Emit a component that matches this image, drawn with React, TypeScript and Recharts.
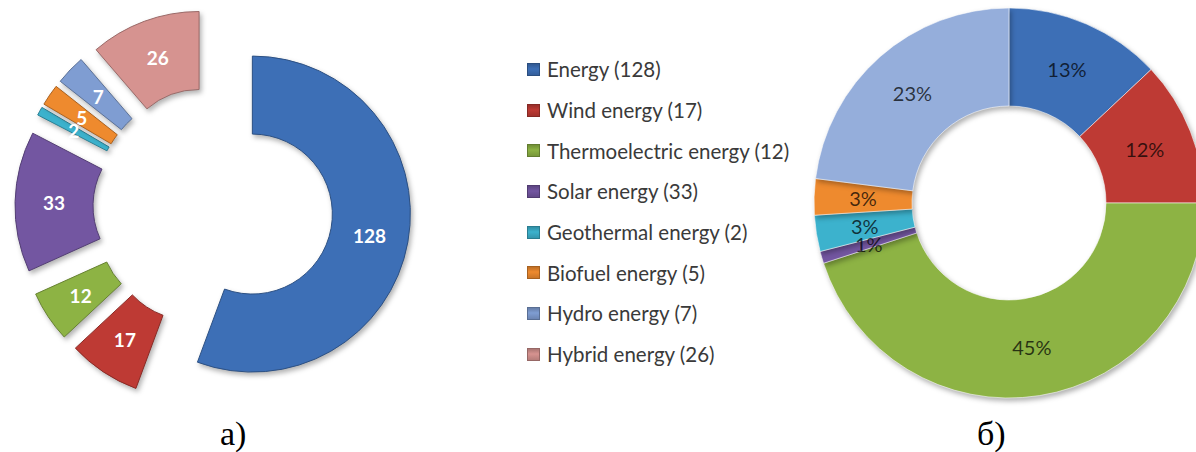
import React from 'react';
import { PieChart, Pie, Cell, Legend } from 'recharts';

// --- data ---------------------------------------------------------------
const SOURCES = [
  'Energy',
  'Wind energy',
  'Thermoelectric energy',
  'Solar energy',
  'Geothermal energy',
  'Biofuel energy',
  'Hydro energy',
  'Hybrid energy',
];
const COUNTS = [128, 17, 12, 33, 2, 5, 7, 26];
const COLORS = ['#3D6FB6', '#BE3A34', '#8DB344', '#7356A1', '#3CB2CD', '#EE8A2E', '#7F9DD2', '#D69390'];

const SHARE_NAMES = [
  'Energy',
  'Wind energy',
  'Thermoelectric energy',
  'Solar energy',
  'Geothermal energy',
  'Biofuel energy',
  'Hydro energy',
];
const SHARE_VALUES = [13, 12, 45, 1, 3, 3, 23];
const SHARE_COLORS = ['#3D6FB6', '#BE3A34', '#8DB344', '#7356A1', '#3CB2CD', '#EE8A2E', '#95AEDB'];

const CAPTIONS = ['а)', 'б)'];

// --- layout -------------------------------------------------------------
const W = 1196;
const H = 452;
const A_CX = 213;
const A_CY = 207;
const A_INNER = 80;
const A_OUTER = 158;
const EXPLODE = 40;

const B_CX = 1009;
const B_CY = 203;
const B_INNER = 97;
const B_OUTER = 195;

const FONT = 'Lato, "Open Sans", sans-serif';
const RAD = Math.PI / 180;

const countData = SOURCES.map((name, i) => ({ name, value: COUNTS[i] }));
const shareData = SHARE_NAMES.map((name, i) => ({ name, value: SHARE_VALUES[i] }));
const total = COUNTS.reduce((s, v) => s + v, 0);

function darker(hex: string, k = 0.72) {
  const n = parseInt(hex.slice(1), 16);
  const r = Math.round(((n >> 16) & 255) * k);
  const g = Math.round(((n >> 8) & 255) * k);
  const b = Math.round((n & 255) * k);
  return `rgb(${r},${g},${b})`;
}

// each slice of the left donut gets its own pie, pushed out along its mid angle
function explodedCenter(i: number) {
  const before = COUNTS.slice(0, i).reduce((s, v) => s + v, 0);
  const mid = 90 - ((before + COUNTS[i] / 2) / total) * 360;
  return {
    cx: A_CX + EXPLODE * Math.cos(mid * RAD),
    cy: A_CY - EXPLODE * Math.sin(mid * RAD),
  };
}

const countLabel = (only: number) => (props: any) => {
  if (props.index !== only) return null;
  const { cx, cy, midAngle, innerRadius, outerRadius, value } = props;
  const r = (innerRadius + outerRadius) / 2;
  const x = cx + r * Math.cos(-midAngle * RAD);
  const y = cy + r * Math.sin(-midAngle * RAD);
  return (
    <text
      x={x}
      y={y}
      fill="#fff"
      textAnchor="middle"
      dominantBaseline="central"
      style={{ fontFamily: FONT, fontWeight: 700, fontSize: 19 }}
    >
      {value}
    </text>
  );
};

const shareLabel = (props: any) => {
  const { cx, cy, midAngle, innerRadius, outerRadius, value } = props;
  const r = (innerRadius + outerRadius) / 2;
  const x = cx + r * Math.cos(-midAngle * RAD);
  const y = cy + r * Math.sin(-midAngle * RAD);
  return (
    <text
      x={x}
      y={y}
      fill="#000"
      fillOpacity={0.72}
      textAnchor="middle"
      dominantBaseline="central"
      style={{ fontFamily: FONT, fontSize: 20 }}
    >
      {`${value}%`}
    </text>
  );
};

const LegendBox = () => (
  <div style={{ fontFamily: FONT, fontSize: 20.5, color: '#3a3a3a' }}>
    {SOURCES.map((name, i) => (
      <div key={name} style={{ height: 40.7, display: 'flex', alignItems: 'center' }}>
        <span
          style={{
            width: 13,
            height: 13,
            marginRight: 7,
            background: `linear-gradient(180deg, ${darker(COLORS[i], 0.8)} 0%, ${COLORS[i]} 45%, ${darker(COLORS[i], 0.85)} 100%)`,
            border: `1px solid ${darker(COLORS[i], 0.7)}`,
            boxSizing: 'border-box',
            flex: 'none',
          }}
        />
        <span>{`${name} (${COUNTS[i]})`}</span>
      </div>
    ))}
  </div>
);

export default function App() {
  return (
    <div style={{ position: 'absolute', left: 0, top: 0, width: W, height: H, background: '#fff' }}>
      {/* soft shadow under every ring segment */}
      <style>{`.recharts-pie-sector .recharts-sector { filter: drop-shadow(2px 3px 2.5px rgba(0,0,0,0.3)); }`}</style>
      <PieChart width={W} height={H} margin={{ top: 0, right: 0, bottom: 0, left: 0 }}>
        {SOURCES.map((name, i) => {
          const c = explodedCenter(i);
          return (
            <Pie
              key={name}
              data={countData}
              dataKey="value"
              cx={c.cx}
              cy={c.cy}
              innerRadius={A_INNER}
              outerRadius={A_OUTER}
              startAngle={90}
              endAngle={-270}
              isAnimationActive={false}
              labelLine={false}
              label={countLabel(i)}
            >
              {countData.map((d, j) =>
                j === i ? (
                  <Cell key={d.name} fill={COLORS[j]} stroke={darker(COLORS[j])} strokeWidth={1} />
                ) : (
                  <Cell key={d.name} fill="none" stroke="none" />
                )
              )}
            </Pie>
          );
        })}
        <Pie
          data={shareData}
          dataKey="value"
          cx={B_CX}
          cy={B_CY}
          innerRadius={B_INNER}
          outerRadius={B_OUTER}
          startAngle={90}
          endAngle={-270}
          isAnimationActive={false}
          labelLine={false}
          label={shareLabel}
        >
          {shareData.map((d, j) => (
            <Cell key={d.name} fill={SHARE_COLORS[j]} stroke="rgba(255,255,255,0.55)" strokeWidth={1} />
          ))}
        </Pie>
        <Legend
          content={() => <LegendBox />}
          wrapperStyle={{ position: 'absolute', left: 527, top: 49, width: 330 }}
        />
      </PieChart>
      {CAPTIONS.map((t, i) => (
        <div
          key={t}
          style={{
            position: 'absolute',
            left: i === 0 ? 220 : 977,
            top: 417,
            fontFamily: '"Liberation Serif", "Times New Roman", serif',
            fontSize: 34,
            lineHeight: '34px',
            color: '#000',
          }}
        >
          {t}
        </div>
      ))}
    </div>
  );
}
